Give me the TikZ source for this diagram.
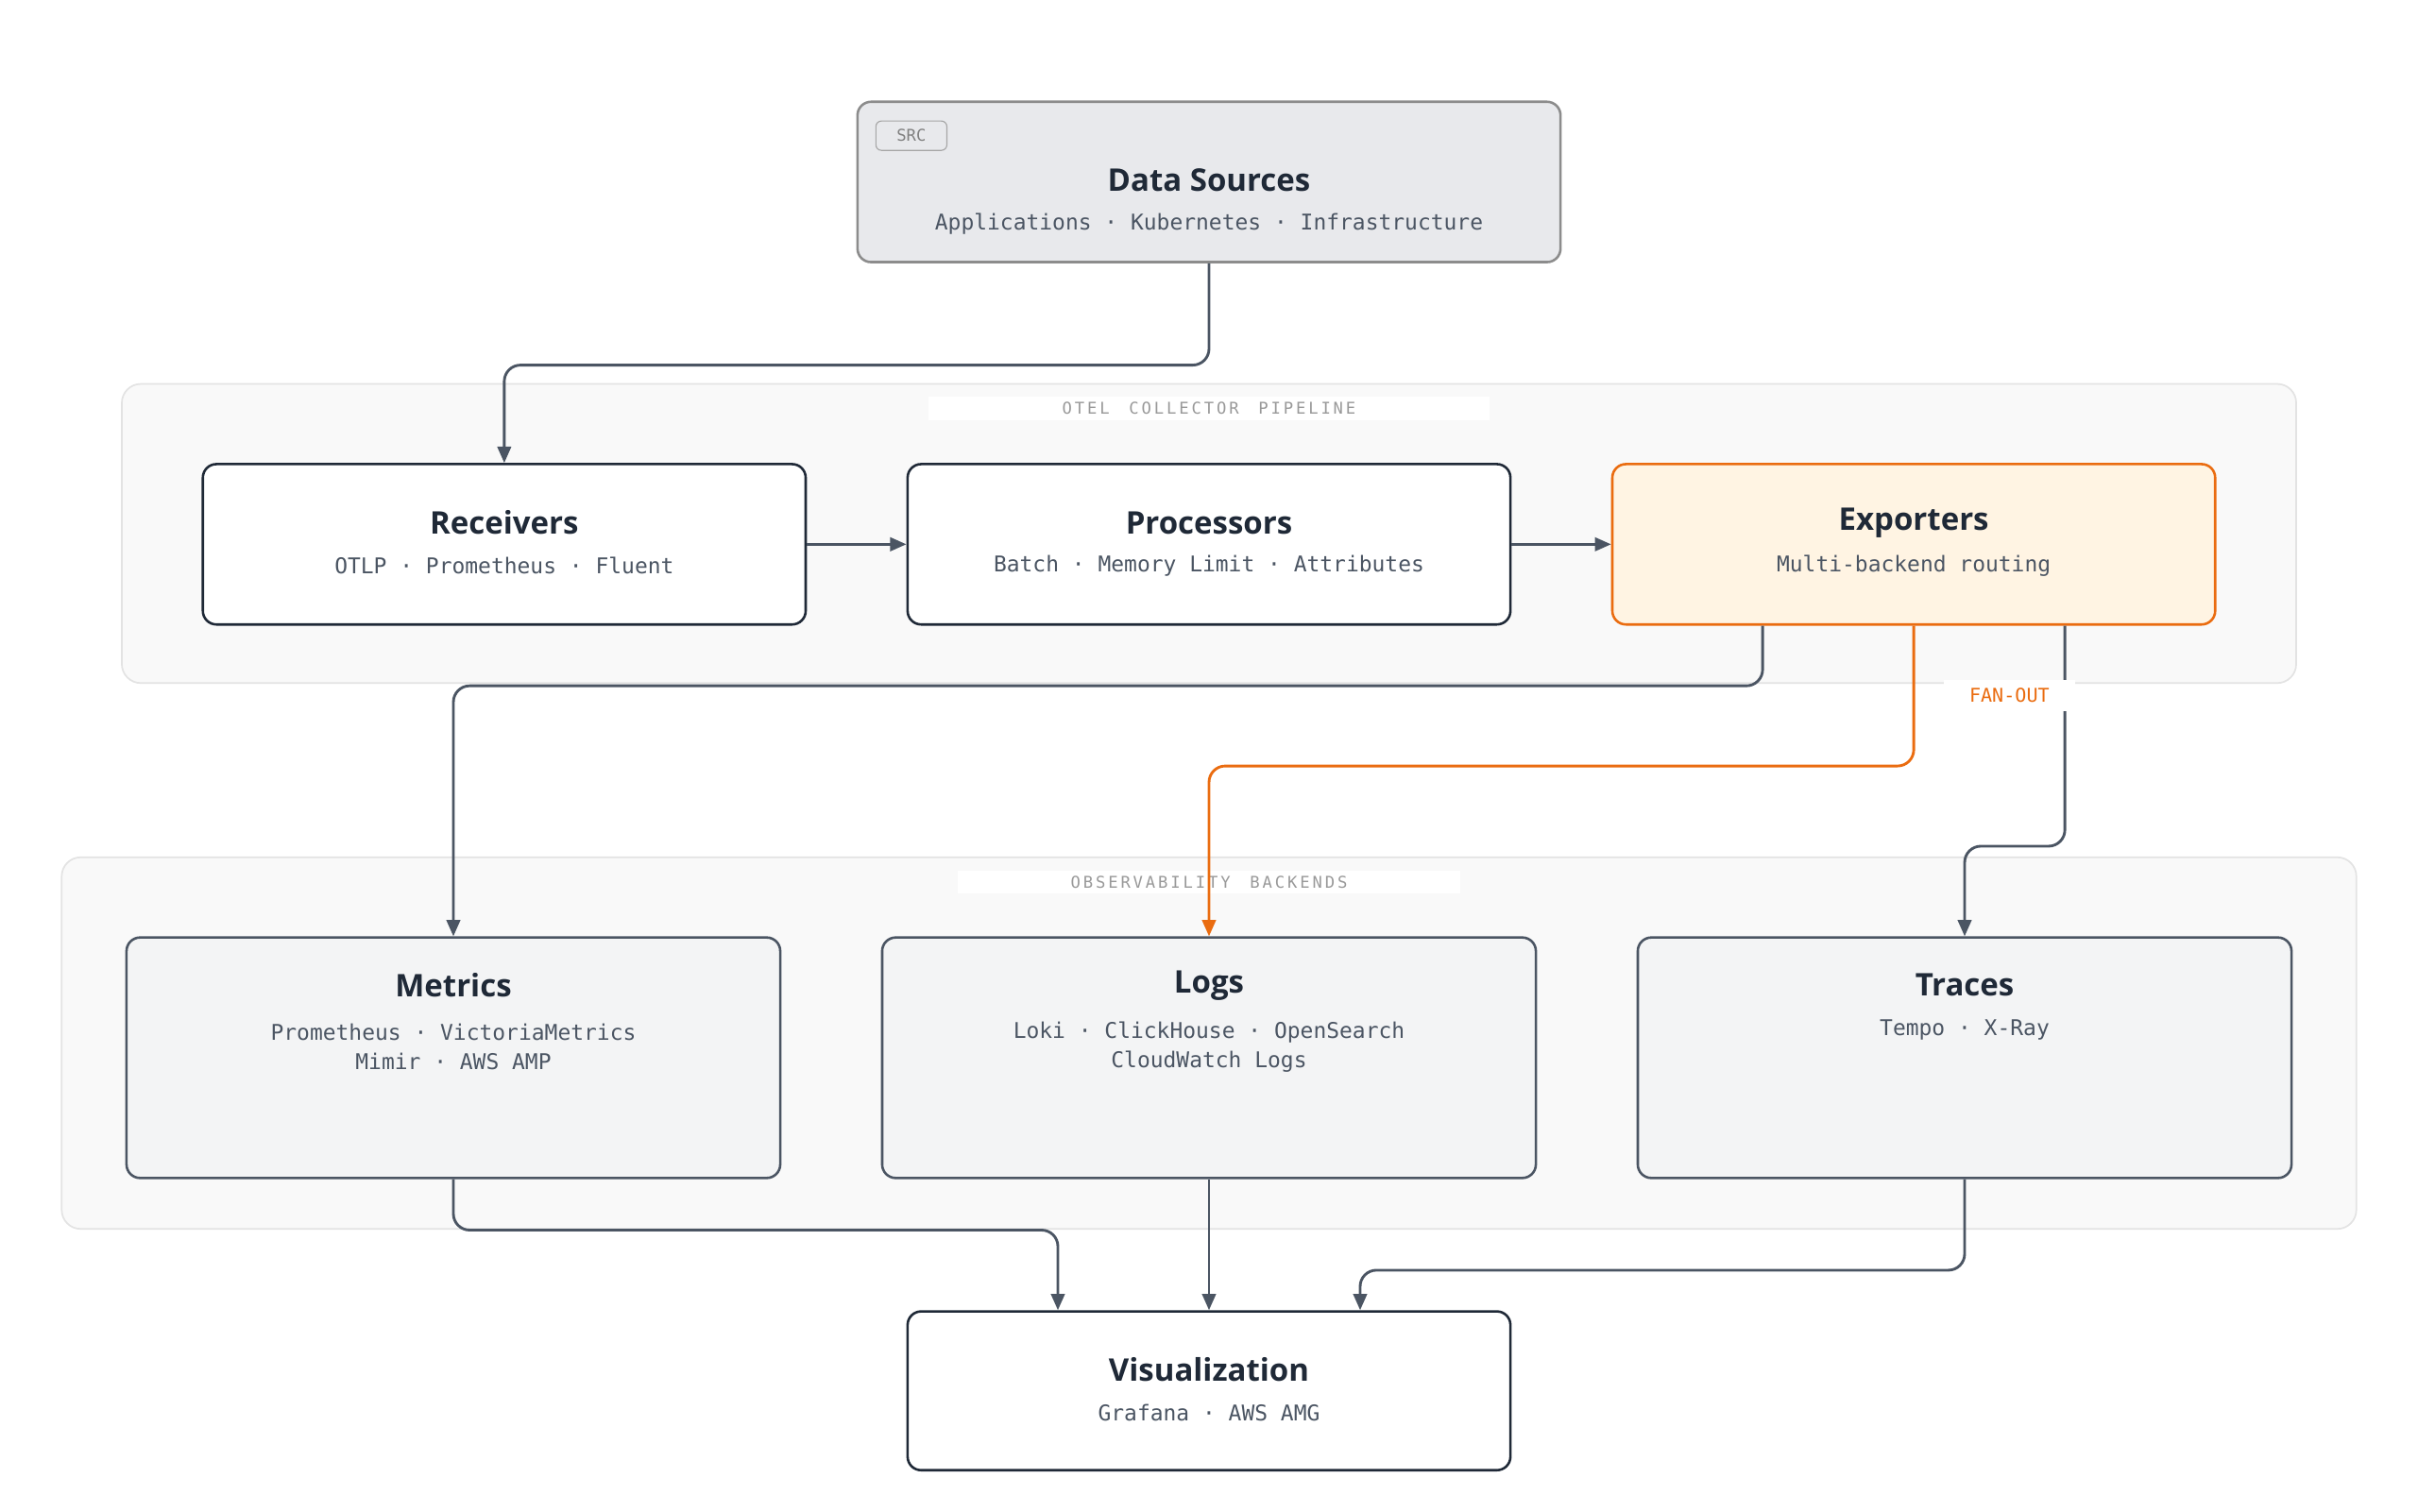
\documentclass[tikz,border=0pt]{standalone}
\usepackage{fontspec}
\setmainfont{Open Sans}
\newfontfamily\monofont{DejaVu Sans Mono}
\usetikzlibrary{positioning,calc,arrows.meta}
\definecolor{ink}{HTML}{1F2937}
\definecolor{edge}{HTML}{4B5563}
\definecolor{subtxt}{HTML}{4B5563}
\definecolor{orng}{HTML}{EA6C10}
\definecolor{orfill}{HTML}{FFF4E3}
\definecolor{grayfill}{HTML}{F3F4F5}
\definecolor{srcfill}{HTML}{E8E9EC}
\definecolor{grpfill}{HTML}{F9F9F9}
\definecolor{grpline}{HTML}{E3E3E3}
\tikzset{
  box/.style={draw=ink, line width=0.9pt, rounded corners=5pt, fill=white, inner sep=0pt},
  backend/.style={box, draw=edge, fill=grayfill, minimum width=8.48cm, minimum height=3.12cm},
  group/.style={draw=grpline, line width=0.6pt, rounded corners=7pt, fill=grpfill},
  grplabel/.style={fill=white, text=black!40, font=\monofont\fontsize{6}{7}\selectfont, inner sep=2pt},
  title/.style={text=ink, font=\bfseries\fontsize{11.5}{13}\selectfont},
  sub/.style={text=subtxt, font=\monofont\fontsize{8}{11}\selectfont, align=center},
  conn/.style={draw=edge, line width=1pt, rounded corners=6pt, -{Triangle[length=6pt,width=5pt]}},
}
\begin{document}
\begin{tikzpicture}[x=0.02cm, y=-0.02cm]
  \useasboundingbox (0,0) rectangle (1568,980);
  % groups
  \draw[group] (79,249) rectangle (1489,443);
  \node[grplabel, minimum width=7.28cm] (plabel) at (784,265) {O\,T\,E\,L\ \ C\,O\,L\,L\,E\,C\,T\,O\,R\ \ P\,I\,P\,E\,L\,I\,N\,E};
  \draw[group] (40,556) rectangle (1528,797);
  \node[grplabel, minimum width=6.52cm] (blabel) at (784,572) {O\,B\,S\,E\,R\,V\,A\,B\,I\,L\,I\,T\,Y\ \ B\,A\,C\,K\,E\,N\,D\,S};
  % source
  \node[box, draw=black!45, fill=srcfill, minimum width=9.12cm, minimum height=2.08cm] (ds) at (784,118) {};
  \node[draw=black!35, fill=srcfill, rounded corners=2pt, minimum width=0.92cm, minimum height=0.38cm, inner sep=0pt,
        text=black!50, font=\monofont\fontsize{6}{7}\selectfont] (src) at (591,88) {SRC};
  \node[title] (dst) at (784,117) {Data Sources};
  \node[sub] (dss) at (784,145) {Applications · Kubernetes · Infrastructure};
  % pipeline
  \node[box, minimum width=7.82cm, minimum height=2.08cm] (rec) at (327,353) {};
  \node[title] at (327,339) {Receivers};
  \node[sub] at (327,367) {OTLP · Prometheus · Fluent};
  \node[box, minimum width=7.82cm, minimum height=2.08cm] (proc) at (784,353) {};
  \node[title] at (784,339) {Processors};
  \node[sub] at (784,367) {Batch · Memory Limit · Attributes};
  \node[box, draw=orng, fill=orfill, minimum width=7.82cm, minimum height=2.08cm] (exp) at (1241,353) {};
  \node[title] at (1241,339) {Exporters};
  \node[sub] at (1241,367) {Multi-backend routing};
  % backends
  \node[backend] (met) at (294,686) {};
  \node[title] at (294,639) {Metrics};
  \node[sub] at (294,679) {Prometheus · VictoriaMetrics\\Mimir · AWS AMP};
  \node[backend] (logs) at (784,686) {};
  \node[title] at (784,639) {Logs};
  \node[sub] at (784,679) {Loki · ClickHouse · OpenSearch\\CloudWatch Logs};
  \node[backend] (tr) at (1274,686) {};
  \node[title] at (1274,639) {Traces};
  \node[sub] at (1274,668) {Tempo · X-Ray};
  % visualization
  \node[box, minimum width=7.82cm, minimum height=2.06cm] (vis) at (784,902) {};
  \node[title] at (784,888) {Visualization};
  \node[sub] at (784,916) {Grafana · AWS AMG};
  % connectors
  \draw[conn] (ds.south) -- ++(0,66) -| (rec.north);
  \draw[conn] (rec.east) -- (proc.west);
  \draw[conn] (proc.east) -- (exp.west);
  \draw[conn] ($(exp.south)+(-98,0)$) -- ++(0,39) -| (met.north);
  \draw[conn, draw=orng] (exp.south) -- ++(0,91) -| (logs.north);
  \draw[conn] ($(exp.south)+(98,0)$) -- ++(0,143) -| (tr.north);
  \node[fill=white, text=orng, font=\monofont\fontsize{7}{8}\selectfont, inner sep=3pt, minimum width=1.7cm] (fan) at (1303,451) {FAN-OUT};
  \draw[conn] (met.south) -- ++(0,33) -| ($(vis.north)+(-98,0)$);
  \draw[conn] (logs.south) -- (vis.north);
  \draw[conn] (tr.south) -- ++(0,59) -| ($(vis.north)+(98,0)$);
\end{tikzpicture}
\end{document}
